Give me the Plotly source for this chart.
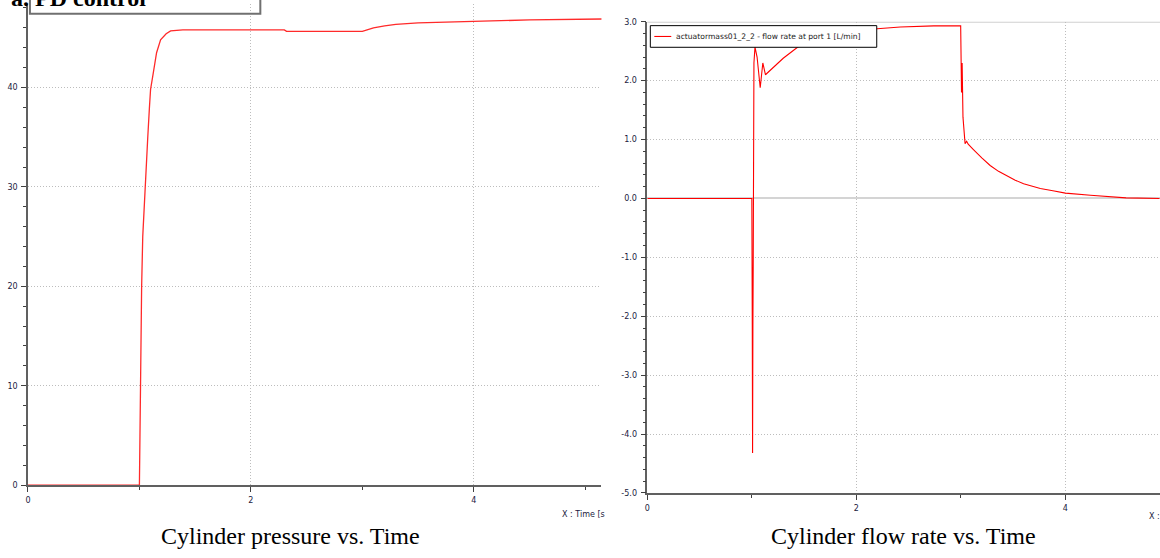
import plotly.graph_objects as go

# ---------------- data ----------------
# Left: cylinder pressure vs time
time_p = [0, 1.0, 1.005, 1.01, 1.02, 1.03, 1.044, 1.06, 1.075, 1.09, 1.10, 1.125, 1.154,
          1.19, 1.24, 1.28, 1.39, 2.3, 2.32, 3.0, 3.05, 3.1, 3.2, 3.3, 3.5, 3.8,
          4.0, 4.5, 5.2]
pressure = [0, 0, 5, 12, 20, 25, 28.6, 31.5, 35.0, 38.0, 39.8, 41.5, 43.5,
            44.8, 45.4, 45.7, 45.8, 45.8, 45.65, 45.65, 45.8, 46.0, 46.2, 46.35, 46.5, 46.6,
            46.7, 46.8, 46.9]

# Right: cylinder flow rate vs time
time_q = [0, 1.0, 1.004, 1.007, 1.010, 1.013, 1.015, 1.02, 1.03, 1.05, 1.08, 1.105,
          1.13, 1.2, 1.3, 1.44, 1.6, 1.8, 2.0, 2.2, 2.42, 2.74, 2.998, 3.0, 3.003,
          3.006, 3.012, 3.02, 3.04, 3.055, 3.07, 3.08, 3.12, 3.2, 3.28, 3.36, 3.44,
          3.52, 3.6, 3.76, 3.88, 4.0, 4.24, 4.4, 4.58, 4.9]
flow = [0, 0, -2.15, -4.32, -2.15, -1.14, 2.1, 2.3, 2.57, 2.4, 1.88, 2.3,
        2.1, 2.22, 2.38, 2.57, 2.7, 2.79, 2.84, 2.88, 2.91, 2.93, 2.93, 2.38, 2.6,
        1.8, 2.3, 1.38, 0.93, 0.97, 0.92, 0.9, 0.83, 0.69, 0.56, 0.46, 0.38,
        0.31, 0.25, 0.17, 0.13, 0.09, 0.055, 0.03, 0.01, 0.0]

series_name = "actuatormass01_2_2 - flow rate at port 1 [L/min]"

x_ticks = [0, 2, 4]
x_tick_labels = ["0", "2", "4"]
yl_ticks = [0, 10, 20, 30, 40]
yl_tick_labels = ["0", "10", "20", "30", "40"]
yr_ticks = [-5, -4, -3, -2, -1, 0, 1, 2, 3]
yr_tick_labels = ["-5.0", "-4.0", "-3.0", "-2.0", "-1.0", "0.0", "1.0", "2.0", "3.0"]

captions = ["Cylinder pressure vs. Time", "Cylinder flow rate vs. Time"]
top_title = "a. PD control"
x_label = "X : Time [s"

# ---------------- figure ----------------
W, H = 1160, 558
def px(x): return x / W
def py(y): return 1 - y / H

fig = go.Figure()
fig.add_trace(go.Scatter(x=time_p, y=pressure, mode="lines",
                         line=dict(color="#ff2a2a", width=1.3),
                         xaxis="x", yaxis="y", showlegend=False))
fig.add_trace(go.Scatter(x=time_q, y=flow, mode="lines",
                         line=dict(color="#ff0000", width=1.1),
                         xaxis="x2", yaxis="y2", name=series_name, showlegend=False))

tickfont = dict(family="DejaVu Sans", size=8, color="#1a1a40")
common = dict(showline=True, linecolor="#606060", linewidth=1.5,
              ticks="outside", ticklen=5, tickwidth=1, tickcolor="#404040",
              tickfont=tickfont, showgrid=True, gridcolor="#bdbdbd",
              griddash="1px,2px", gridwidth=1, zeroline=False, ticklabelstandoff=2)

def minor(dt, t0=0):
    return dict(tickmode="linear", tick0=t0, dtick=dt, ticklen=3,
                tickcolor="#404040", tickwidth=1, showgrid=False)

fig.update_layout(
    width=W, height=H, margin=dict(l=0, r=0, t=0, b=0),
    paper_bgcolor="white", plot_bgcolor="white",
    xaxis=dict(domain=[px(25), px(600)], range=[0, 5.145], anchor="y",
               tickmode="array", tickvals=x_ticks, ticktext=x_tick_labels,
               minor=minor(1), **common),
    yaxis=dict(domain=[py(489), 1], range=[0, 48.4], anchor="x",
               tickmode="array", tickvals=yl_ticks, ticktext=yl_tick_labels,
               minor=minor(2), **common),
    xaxis2=dict(domain=[px(646), 1], range=[0, 4.905], anchor="y2",
                tickmode="array", tickvals=x_ticks, ticktext=x_tick_labels,
                minor=minor(1), **common),
    yaxis2=dict(domain=[py(497), py(18)], range=[-5, 3], anchor="x2",
                tickmode="array", tickvals=yr_ticks, ticktext=yr_tick_labels,
                minor=minor(0.2), **{**common, "zeroline": True,
                                      "zerolinecolor": "#d4d4d4", "zerolinewidth": 2}),
    showlegend=False,
)

# frame line on top of right chart
fig.add_shape(type="line", xref="x2 domain", yref="y2", x0=0, x1=1, y0=3, y1=3,
              line=dict(color="#d0d0d0", width=2), layer="below")
# bottom edge of cropped legend box on the left chart
fig.add_shape(type="rect", xref="paper", yref="paper",
              x0=px(27), x1=px(258), y0=py(10), y1=1.1,
              line=dict(color="#707070", width=2), fillcolor="rgba(0,0,0,0)")

# legend box of the right chart
fig.add_shape(type="rect", xref="paper", yref="paper",
              x0=px(649), x1=px(876), y0=py(44), y1=py(22),
              line=dict(color="#000000", width=1), fillcolor="white", layer="above")
fig.add_shape(type="line", xref="paper", yref="paper",
              x0=px(653), x1=px(670), y0=py(33), y1=py(33),
              line=dict(color="#ff0000", width=1.1), layer="above")
fig.add_annotation(text=series_name, xref="paper", yref="paper", x=px(673), y=py(33),
                   xanchor="left", yanchor="middle", showarrow=False,
                   font=dict(family="DejaVu Sans", size=7.6, color="#222222"))

fig.add_annotation(text=captions[0], xref="paper", yref="paper", x=px(288), y=py(541),
                   xanchor="center", yanchor="middle", showarrow=False,
                   font=dict(family="Liberation Serif", size=24, color="black"))
fig.add_annotation(text=captions[1], xref="paper", yref="paper", x=px(903), y=py(541),
                   xanchor="center", yanchor="middle", showarrow=False,
                   font=dict(family="Liberation Serif", size=24, color="black"))
fig.add_annotation(text="<b>" + top_title + "</b>", xref="paper", yref="paper",
                   x=px(145), y=py(9), xanchor="right", yanchor="bottom", showarrow=False,
                   font=dict(family="Liberation Serif", size=24, color="black"))
fig.add_annotation(text=x_label, xref="paper", yref="paper", x=px(558), y=py(519),
                   xanchor="left", yanchor="middle", showarrow=False,
                   font=dict(family="DejaVu Sans", size=8, color="#1a1a40"))
fig.add_annotation(text=x_label, xref="paper", yref="paper", x=px(1147), y=py(521),
                   xanchor="left", yanchor="middle", showarrow=False,
                   font=dict(family="DejaVu Sans", size=8, color="#1a1a40"))

post = ("document.documentElement.style.margin='0';"
        "document.documentElement.style.overflow='hidden';"
        "document.body.style.margin='0';document.body.style.overflow='hidden';"
        "document.body.style.height='558px';")

fig.write_html("out.html", post_script=post,
               config={"displayModeBar": False, "responsive": False})
